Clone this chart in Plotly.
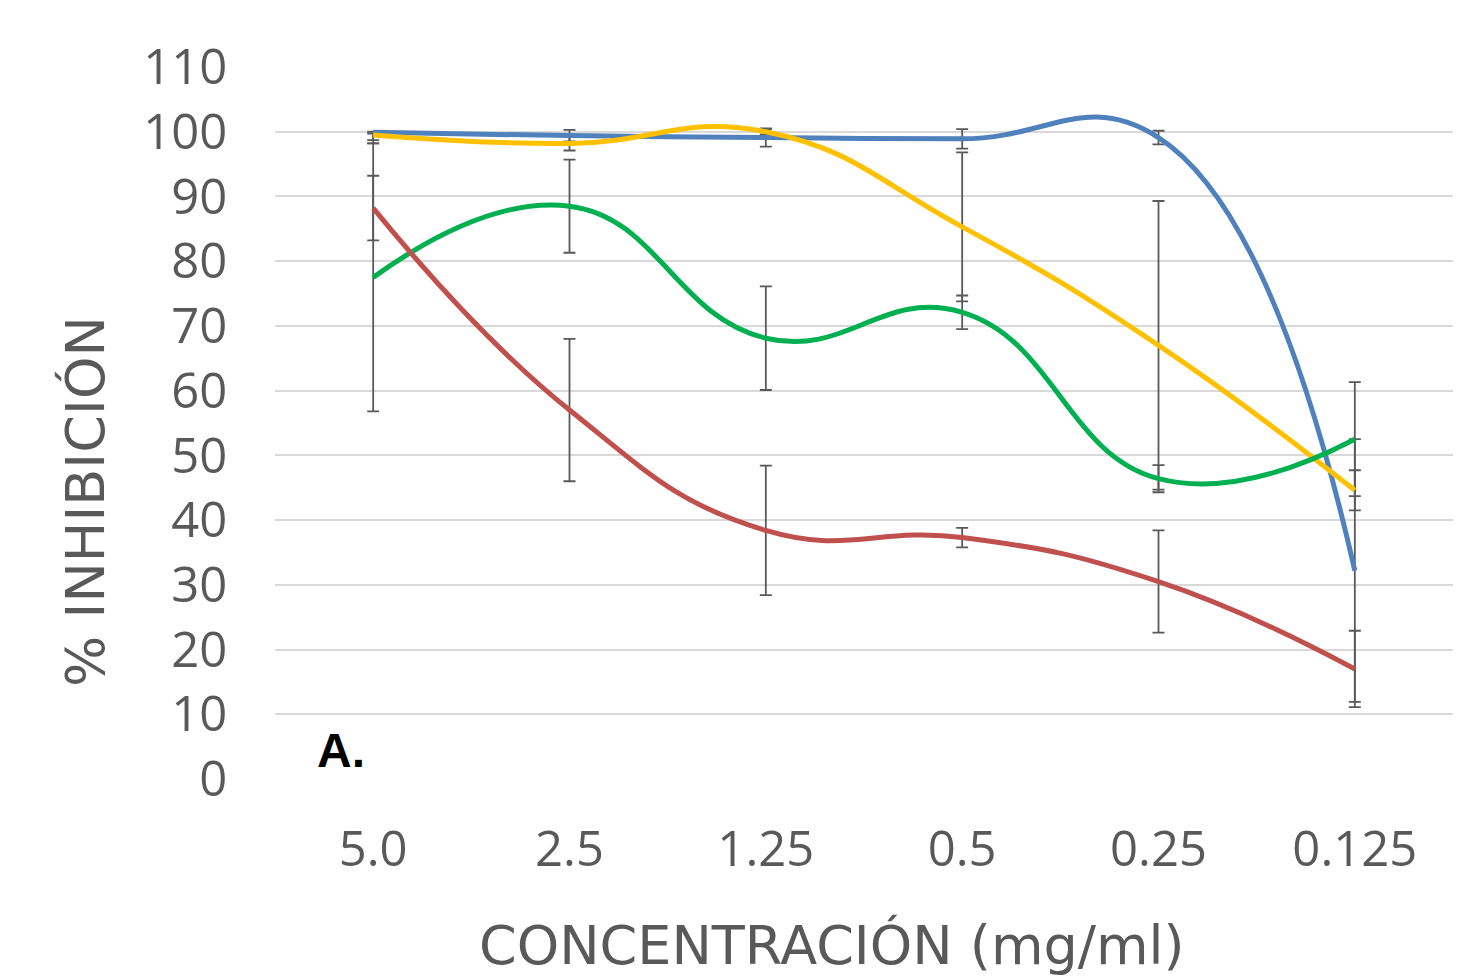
import plotly.graph_objects as go

categories = ["5.0", "2.5", "1.25", "0.5", "0.25", "0.125"]

blue = [99.9, 99.4, 99.1, 98.9, 99.1, 32.2]
blue_err_plus = [0.1, 0.9, 1.4, 1.5, 1.05, 20.3]
blue_err_minus = [1.2, 0.9, 1.4, 1.5, 1.05, 20.3]

yellow = [99.5, 98.2, 100.0, 85.3, 67.0, 44.6]
yellow_err_plus = [0.2, 1.1, 0.4, 11.5, 22.3, 3.1]
yellow_err_minus = [1.3, 1.1, 0.4, 11.5, 22.3, 3.1]

green = [77.5, 88.5, 68.1, 72.1, 46.4, 52.5]
green_err = [20.7, 7.2, 8.0, 2.6, 2.1, 8.8]

red = [88.2, 57.0, 38.4, 37.3, 30.5, 17.0]
red_err = [5.0, 11.0, 10.0, 1.5, 7.9, 5.9]

y_ticks = list(range(0, 111, 10))

x = list(range(len(categories)))

series = [
    ("blue", blue, blue_err_plus, blue_err_minus, "#4f81bd"),
    ("yellow", yellow, yellow_err_plus, yellow_err_minus, "#ffc000"),
    ("green", green, green_err, green_err, "#00b050"),
    ("red", red, red_err, red_err, "#c0504d"),
]

TICKFONT = "Open Sans"
TITLEFONT = "DejaVu Sans"
TXT = "#595959"

fig = go.Figure()

# error bars first (drawn beneath lines)
for name, vals, ep, em, col in series:
    fig.add_trace(go.Scatter(
        x=x, y=vals, mode="markers",
        marker=dict(size=1, opacity=0),
        error_y=dict(type="data", symmetric=False, array=ep, arrayminus=em,
                     color="#595959", thickness=1.8, width=6),
        showlegend=False, hoverinfo="skip",
    ))

for name, vals, ep, em, col in series:
    fig.add_trace(go.Scatter(
        x=x, y=vals, mode="lines", name=name,
        line=dict(color=col, width=5, shape="spline", smoothing=1.3),
        showlegend=False,
    ))

# page body has an 8px margin, so the figure is sized/offset to compensate
fig.update_layout(
    width=1470, height=969,
    margin=dict(l=267, r=25, t=59, b=198),
    paper_bgcolor="white", plot_bgcolor="white",
    font=dict(family=TICKFONT, color=TXT, size=48),
    xaxis=dict(
        range=[-0.5, 5.5], tickmode="array", tickvals=x, ticktext=categories,
        showgrid=False, zeroline=False, showline=False, automargin=False,
        ticks="outside", ticklen=27, tickcolor="rgba(0,0,0,0)",
        tickfont=dict(family=TICKFONT, size=49, color=TXT),
    ),
    yaxis=dict(
        range=[0, 110], tickmode="array", tickvals=y_ticks,
        showgrid=True, gridcolor="#d9d9d9", gridwidth=1.5,
        zeroline=False, showline=False, automargin=False,
        ticks="outside", ticklen=37, tickcolor="rgba(0,0,0,0)",
        tickfont=dict(family=TICKFONT, size=49, color=TXT),
    ),
    annotations=[
        dict(text="CONCENTRACIÓN (mg/ml)", xref="paper", yref="paper",
             x=(832 - 275) / 1178, y=-(945 - 779) / 712, showarrow=False,
             xanchor="center", yanchor="middle",
             font=dict(family=TITLEFONT, size=54, color=TXT)),
        dict(text="% INHIBICIÓN", xref="paper", yref="paper",
             x=-(275 - 85) / 1178, y=(779 - 502) / 712, showarrow=False,
             textangle=-90, xanchor="center", yanchor="middle",
             font=dict(family=TITLEFONT, size=54, color=TXT)),
        dict(text="<b>A.</b>", xref="paper", yref="paper",
             x=(341 - 275) / 1178, y=(779 - 750) / 712, showarrow=False,
             xanchor="center", yanchor="middle",
             font=dict(family="Liberation Sans", size=48, color="black")),
    ],
)

fig.write_html("out.html")
